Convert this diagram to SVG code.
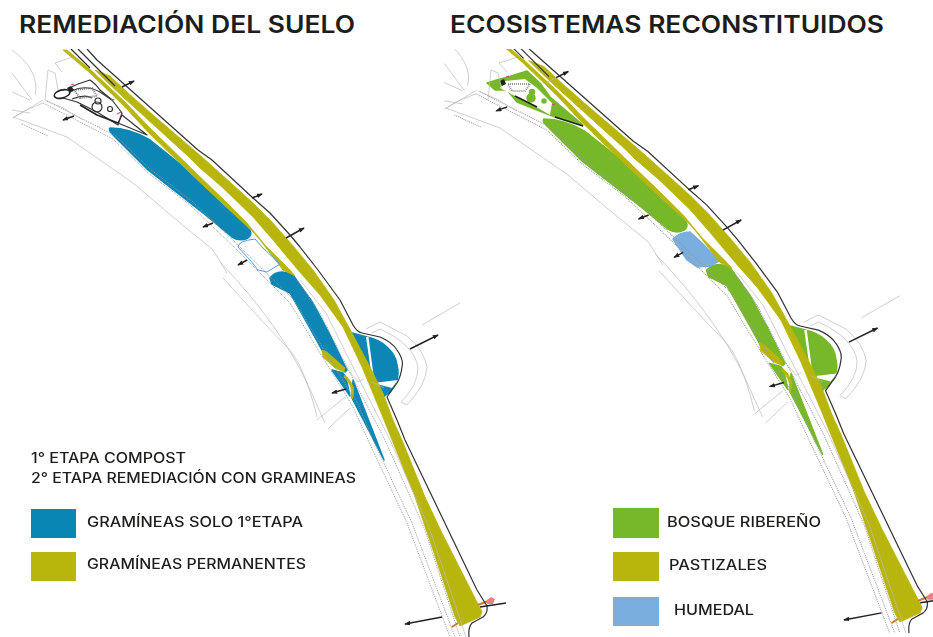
<svg xmlns="http://www.w3.org/2000/svg" xmlns:xlink="http://www.w3.org/1999/xlink" width="933" height="637" viewBox="0 0 933 637">
<style>
text{font-family:"Inter","Liberation Sans",sans-serif;fill:#1d1d1b}
.title{font-size:24px;font-weight:600}
.leg{font-size:14px;font-weight:500}
.b{fill:#0a86b5;stroke:#0a86b5;stroke-width:1.5;stroke-linejoin:round}
.g{fill:#76b82a;stroke:#76b82a;stroke-width:1.5;stroke-linejoin:round}
.o{fill:#b8b50c;stroke:#b8b50c;stroke-width:.8;stroke-linejoin:round}
.w{fill:#fff;stroke:none}
.k{fill:none;stroke:#333;stroke-width:1.2;stroke-linejoin:round}
.kk{fill:none;stroke:#222;stroke-width:1.6;stroke-linejoin:round}
.t{fill:none;stroke:#bbb;stroke-width:.7}
.d{fill:none;stroke:#999;stroke-width:1;stroke-dasharray:1 1}
.a{fill:none;stroke:#222;stroke-width:1.5}
.or{stroke:#d9742b;stroke-width:2;fill:none}
</style>
<defs>
<filter id="soft" x="0" y="0" width="100%" height="100%"><feGaussianBlur stdDeviation="0.35"/></filter>
<marker id="h" viewBox="0 0 8 6" refX="7" refY="3" markerWidth="6" markerHeight="4.5" orient="auto-start-reverse" markerUnits="userSpaceOnUse"><path d="M0 0L8 3L0 6Z" fill="#222"/></marker>
<clipPath id="top"><rect x="0" y="49" width="933" height="588"/></clipPath>
<path id="blue1" d="M110 128Q130 128 150 140L190 172L223 205L247 226Q254 233 248 238Q240 242 232 237L203 213L148 170L113 135Q108 130 110 128Z"/>
<path id="blue2" d="M270 278Q278 268 293 275L313 303L330 335L347 370L345 372L323 352L307 323L290 293L272 284Z"/>
<path id="blue3" d="M332 370L343 373L346 378L350 396Z"/>
<path id="blue4" d="M353 380L384 460L352 398Z"/>
<path id="bulb" d="M352 333L367 337Q380 340 387 347Q396 355 397 365Q399 373 397 380Q394 387 390 392L382 398L365 362Z"/>
<path id="slit" d="M366 337L368.500 337L373.500 375L371.500 375ZM373 383L398 380L392 388Z"/>
<g id="strips">
<path class="o" d="M95 70L110 76L127 92L153 115L202 157L231 183L253 203L272 222L294 247L313 270L334 300L352 333L370 367L383 393L393 420L402 440L425 497L442 533L478 604L482 612L480 617L460 626L455 617L433 550L415 497L392 440L384 420L362 367L343 327L320 295L298 270L273 240L253 217L223 188L200 168L190 158L157 128L123 97L107 82Z"/>
<path class="o" d="M67 50L92 71L125 102L150 128L192 169L223 199L247 223L265 245L290 270L295 276L283 270L260 240L253 232L223 204L190 173L148 132L123 105L90 73L63 50Z"/>
<path class="o" d="M322 350L327 352L345 368L344 372L335 368L323 357Z" stroke="#555"/>
<path class="o" d="M345 375Q358 387 352 399Q353 385 344 377Z"/>
<path class="or" d="M478 605L488 601M452 627L458 623"/>
</g>
<g id="lines">
<path class="k" d="M87 49L97 60L198 150L212 160L253 198L270 213L290 235L300 247L318 270L340 300L353 325Q357 332 362 333L380 337Q392 342 397 350Q404 360 402 367Q401 376 397 383L387 397L397 420L405 440L477 590L487 606Q488 613 483 617L472 623Q468 627 469 637"/>
<path class="k" d="M71 49L90 68M78 49L115 86"/>
<path class="d" d="M43 103L113 139L147 172L190 205L237 250L290 303L323 358L343 390L353 407L368 440L407 523L450 637"/>
<path class="d" d="M47 101L116 136L150 169L193 202L240 247L294 300L327 355L347 387L358 404L373 440L412 523L455 637"/>
<path class="d" d="M297 280L320 313L350 373L385 440L425 530L460 637" stroke="#777"/>
<path class="t" d="M300 280L326 313L356 373L390 440L430 530L466 637"/>
<path class="t" d="M13 117L67 137L133 183L173 217L213 250L227 273"/>
<path class="t" d="M223 278Q270 330 287 347T317 417M220 262Q280 325 308 385L325 423"/>
<path class="t" d="M317 420L345 397M328 429L350 408"/>
<path class="t" d="M366 329L380 322L407 336Q424 350 427 367Q426 385 407 405L401 402Q418 385 418 368Q415 345 380 329L372 333"/>
<path class="t" d="M422 325L460 303"/>
<path class="t" d="M12 50Q26 60 32 72T35 95M12 73L32 100M12 92L30 100M43 100L13 118M12 110L30 113"/>
<path class="d" d="M22 124L48 136"/>
<path class="t" d="M13 118L22 112L43 103M45 100L63 108L83 120"/>
<path class="t" d="M372 382L384 388M350 372L358 382L364 379"/>
<path class="a" marker-end="url(#h)" d="M122 87L134 81"/>
<path class="t" d="M113 92L122 87"/>
<path class="a" marker-end="url(#h)" d="M74 116L63 120"/>
<path class="a" marker-end="url(#h)" d="M252 198L262 194"/>
<path class="a" marker-end="url(#h)" d="M286 238L304 228"/>
<path class="a" marker-end="url(#h)" d="M213 223L203 227"/>
<path class="a" marker-end="url(#h)" d="M247 260L238 265"/>
<path class="a" marker-end="url(#h)" d="M410 349L438 335"/>
<path class="a" marker-end="url(#h)" d="M346 389L332 393"/>
<path class="a" marker-end="url(#h)" d="M442 617L405 624"/>
<path class="a" d="M480 607L506 603"/>
<path d="M487 600l4 -3l4 2l-2 5l-6 0z" fill="#ee7f86"/>
</g>
</defs>

<g id="title-left"><text class="title" x="19" y="33" textLength="336" lengthAdjust="spacingAndGlyphs">REMEDIACIÓN DEL SUELO</text></g>
<g id="title-right"><text class="title" x="450" y="33" textLength="434" lengthAdjust="spacingAndGlyphs">ECOSISTEMAS RECONSTITUIDOS</text></g>

<g id="plan-left" clip-path="url(#top)"><g filter="url(#soft)">
<use class="b" xlink:href="#blue1" href="#blue1"/>
<use class="b" xlink:href="#blue2" href="#blue2"/>
<use class="b" xlink:href="#blue3" href="#blue3"/>
<use class="b" xlink:href="#blue4" href="#blue4"/>
<use class="b" xlink:href="#bulb" href="#bulb"/>
<use class="w" xlink:href="#slit" href="#slit"/>
<use xlink:href="#strips" href="#strips"/>
<path fill="none" stroke="#5a9bd5" stroke-width="1" d="M238 247Q238 241 255 239L263 248L280 264L267 272L258 270L250 260Z"/>
<use xlink:href="#lines" href="#lines"/>
<g id="park-left">
<path class="t" d="M55 63L72 57M55 63L62 72M48 70L55 73L58 90M48 70L45 100"/>
<path class="k" d="M68 90Q72 86 78 84L90 80Q96 84 100 90L112 100L122 113L118 125L97 112L77 102L63 98"/>
<ellipse class="kk" cx="62" cy="94" rx="8" ry="4" transform="rotate(-15 62 94)"/>
<path class="k" d="M122 115L118 123L147 135Z"/>
<path class="kk" d="M80 105L97 115L118 123"/>
<path class="k" d="M72 91Q85 84 100 92L112 100M72 99Q85 94 92 98"/>
<path d="M74 90L92 88L97 96L80 98Z" fill="none" stroke="#777" stroke-width="2" stroke-dasharray="1 1"/>
<path d="M67 88l4 -2l3 4l-4 3z" fill="#222"/>
<circle class="k" cx="98" cy="101" r="3"/><circle class="k" cx="97" cy="107" r="5"/><circle class="k" cx="110" cy="109" r="2.500"/>
<path d="M71 85l3 -1M111 99l3 1M117 114l4 -2" stroke="#e0408a" stroke-width="1.200" fill="none"/>
</g>
</g></g>

<g id="plan-right" clip-path="url(#top)"><g filter="url(#soft)">
<path class="g" d="M487 83L500 79L508 77L527 71L540 83L550 97L583 125L555 117L537 110L517 102L507 90L495 90Z"/>
<path class="w" d="M505 81L525 79L537 88L552 103L550 115L533 105L515 96L500 88Z"/>
<path d="M508 84L530 84L525 91L512 91Z" fill="none" stroke="#999" stroke-width="2" stroke-dasharray="1 1"/>
<circle class="g" cx="532" cy="92" r="2.500"/><circle class="g" cx="531" cy="98" r="4"/><circle class="g" cx="544" cy="101" r="2"/>
<path class="kk" d="M515 96L537 107M555 117L583 126"/>
<path d="M500 81l4 -2l2 5l-4 2z" fill="#222"/>
<path d="M506 77l3 -1M552 105l3 -1" stroke="#e0408a" stroke-width="1.200" fill="none"/>
<path class="t" d="M499 63L518 57M499 63L507 72M491 70L498 73L502 90M491 70L488 100"/>
<g transform="matrix(1.017 0 0 1.01 432 -10.300)">
<use class="g" xlink:href="#blue1" href="#blue1"/>
<use class="g" xlink:href="#blue2" href="#blue2"/>
<use class="g" xlink:href="#blue3" href="#blue3"/>
<use class="g" xlink:href="#blue4" href="#blue4"/>
<use class="g" xlink:href="#bulb" href="#bulb"/>
<use class="w" xlink:href="#slit" href="#slit"/>
</g>
<path d="M673 239Q680 232 690 232L703 244L719 261L710 266L697 267L687 260Z" fill="#7aaede" stroke="#7aaede" stroke-width="1.500" stroke-linejoin="round"/>
<g transform="matrix(1.017 0 0 1.01 432 -10.300)">
<use xlink:href="#strips" href="#strips"/>
<use xlink:href="#lines" href="#lines"/>
</g>
</g></g>

<g id="legend-left">
<text class="leg" x="31" y="463" textLength="155" lengthAdjust="spacingAndGlyphs">1° ETAPA COMPOST</text>
<text class="leg" x="31" y="483" textLength="325" lengthAdjust="spacingAndGlyphs">2° ETAPA REMEDIACIÓN CON GRAMINEAS</text>
<rect x="31" y="509" width="45" height="29" fill="#0a86b5"/>
<text class="leg" x="87" y="527" textLength="216" lengthAdjust="spacingAndGlyphs">GRAMÍNEAS SOLO 1°ETAPA</text>
<rect x="31" y="552" width="45" height="29" fill="#b8b50c"/>
<text class="leg" x="87" y="569" textLength="219" lengthAdjust="spacingAndGlyphs">GRAMÍNEAS PERMANENTES</text>
</g>
<g id="legend-right">
<rect x="613" y="508" width="46" height="30" fill="#76b82a"/>
<text class="leg" x="667" y="527" textLength="154" lengthAdjust="spacingAndGlyphs">BOSQUE RIBEREÑO</text>
<rect x="613" y="552" width="46" height="29" fill="#b8b50c"/>
<text class="leg" x="669" y="570" textLength="98" lengthAdjust="spacingAndGlyphs">PASTIZALES</text>
<rect x="613" y="597" width="46" height="29" fill="#7aaede"/>
<text class="leg" x="674" y="615" textLength="80" lengthAdjust="spacingAndGlyphs">HUMEDAL</text>
</g>
</svg>
